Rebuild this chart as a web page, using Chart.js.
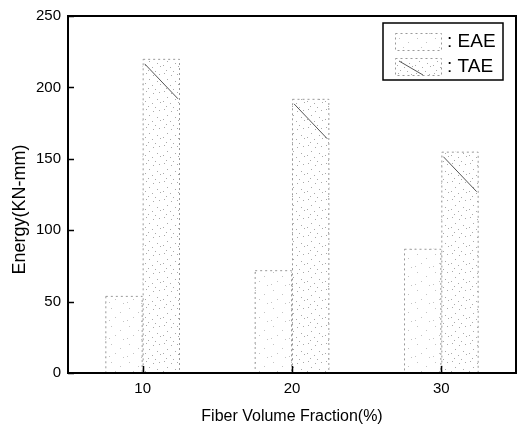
<!DOCTYPE html>
<html>
<head>
<meta charset="utf-8">
<script src="https://cdn.jsdelivr.net/npm/chart.js@4.4.1/dist/chart.umd.min.js"></script>
<style>
    html, body { margin: 0; padding: 0; background: #ffffff; }
    #box { width: 519px; height: 426px; }
</style>
</head>
<body>
<div id="box"><canvas id="grafiek" width="519" height="426"></canvas></div>
<script>
"use strict";

// Gegevens van de grafiek
const categorieen = ["10", "20", "30"];
const reeksNamen = ["EAE", "TAE"];
const eaeWaarden = [54, 72, 87];
const taeWaarden = [220, 192, 155];
const yTicks = [0, 50, 100, 150, 200, 250];
const xTitel = "Fiber Volume Fraction(%)";
const yTitel = "Energy(KN-mm)";

const lettertype = "'Liberation Sans', Arial, sans-serif";

// Maak een gestippeld patroon, zoals in de gescande figuur.
function maakPatroon(stippen, kleur) {
    const c = document.createElement("canvas");
    c.width = 18;
    c.height = 18;
    const ctx = c.getContext("2d");
    ctx.fillStyle = "#ffffff";
    ctx.fillRect(0, 0, 18, 18);
    ctx.fillStyle = kleur;
    stippen.forEach(p => ctx.fillRect(p[0], p[1], 1, 1));
    return ctx.createPattern(c, "repeat");
}

const eaePatroon = maakPatroon([[3, 2], [12, 6], [7, 11], [15, 15], [1, 14]], "#c4c4c4");
const taePatroon = maakPatroon([[2, 1], [9, 3], [15, 2], [5, 7], [13, 9], [1, 11], [8, 13], [16, 12], [4, 16], [11, 17]], "#aaaaaa");

// Kader, naar binnen wijzende streepjes, stippellijnen, y-titel en de legenda
const extraTekenen = {
    id: "extraTekenen",
    afterDatasetsDraw(chart) {
        const ctx = chart.ctx;
        ctx.save();
        chart.data.datasets.forEach((ds, i) => {
            const meta = chart.getDatasetMeta(i);
            meta.data.forEach(bar => {
                const p = bar.getProps(["x", "y", "base", "width"], true);
                const links = p.x - p.width / 2;
                const rechts = p.x + p.width / 2;
                ctx.strokeStyle = "#999999";
                ctx.lineWidth = 1;
                ctx.setLineDash([2, 3]);
                ctx.strokeRect(links + 0.5, p.y + 0.5, p.width - 1, p.base - p.y);
                ctx.setLineDash([]);
                if (i === 1) {
                    ctx.strokeStyle = "#555555";
                    ctx.beginPath();
                    ctx.moveTo(links + 2, p.y + 5);
                    ctx.lineTo(rechts - 2, p.y + 40);
                    ctx.stroke();
                }
            });
        });
        ctx.restore();
    },
    afterDraw(chart) {
        const ctx = chart.ctx;
        const ca = chart.chartArea;
        const y = chart.scales.y;
        const x = chart.scales.x;
        ctx.save();
        ctx.strokeStyle = "#000000";
        ctx.lineWidth = 2;
        ctx.strokeRect(ca.left, ca.top, ca.right - ca.left, ca.bottom - ca.top);

        ctx.lineWidth = 1.5;
        yTicks.forEach(v => {
            const py = Math.round(y.getPixelForValue(v)) + 0.5;
            ctx.beginPath();
            ctx.moveTo(ca.left, py);
            ctx.lineTo(ca.left + 6, py);
            ctx.stroke();
        });
        categorieen.forEach((c, i) => {
            const px = Math.round(x.getPixelForTick(i)) + 0.5;
            ctx.beginPath();
            ctx.moveTo(px, ca.bottom);
            ctx.lineTo(px, ca.bottom - 7);
            ctx.stroke();
        });

        // De y-titel staat in het origineel iets onder het midden van de as.
        ctx.fillStyle = "#000000";
        ctx.font = "18px " + lettertype;
        ctx.textAlign = "center";
        ctx.textBaseline = "middle";
        ctx.translate(20, (ca.top + ca.bottom) / 2 + 15);
        ctx.rotate(-Math.PI / 2);
        ctx.fillText(yTitel, 0, 0);
        ctx.setTransform(1, 0, 0, 1, 0, 0);

        // Legenda met kader rechtsboven in het plotvlak
        const lx = ca.right - 133;
        const ly = ca.top + 7;
        ctx.lineWidth = 1.5;
        ctx.strokeStyle = "#000000";
        ctx.strokeRect(lx, ly, 120, 57);
        const patronen = [eaePatroon, taePatroon];
        reeksNamen.forEach((naam, i) => {
            const sy = ly + 10 + i * 25;
            ctx.fillStyle = patronen[i];
            ctx.fillRect(lx + 12, sy, 46, 17);
            ctx.strokeStyle = "#999999";
            ctx.lineWidth = 1;
            ctx.setLineDash([2, 3]);
            ctx.strokeRect(lx + 12.5, sy + 0.5, 46, 17);
            ctx.setLineDash([]);
            if (i === 1) {
                ctx.strokeStyle = "#555555";
                ctx.beginPath();
                ctx.moveTo(lx + 16, sy + 3);
                ctx.lineTo(lx + 40, sy + 17);
                ctx.stroke();
            }
            ctx.fillStyle = "#000000";
            ctx.font = "19px " + lettertype;
            ctx.textBaseline = "middle";
            ctx.textAlign = "left";
            ctx.fillText(": " + naam, lx + 64, sy + 9);
        });
        ctx.restore();
    }
};

const canvas = document.getElementById("grafiek").getContext("2d");
const mijnGrafiek = new Chart(canvas, {
    type: "bar",
    data: {
        labels: categorieen,
        datasets: [
            {
                label: reeksNamen[0],
                data: eaeWaarden,
                backgroundColor: eaePatroon,
                borderWidth: 0
            },
            {
                label: reeksNamen[1],
                data: taeWaarden,
                backgroundColor: taePatroon,
                borderWidth: 0
            }
        ]
    },
    options: {
        responsive: false,
        animation: false,
        devicePixelRatio: 1,
        categoryPercentage: 0.5,
        barPercentage: 1.0,
        layout: { padding: { top: 13, right: 3, left: 0, bottom: 0 } },
        plugins: {
            legend: { display: false },
            tooltip: { enabled: false }
        },
        scales: {
            x: {
                grid: { display: false, drawTicks: false },
                border: { display: false },
                ticks: {
                    color: "#000000",
                    padding: 7,
                    font: { family: lettertype, size: 15 }
                },
                title: {
                    display: true,
                    text: xTitel,
                    color: "#000000",
                    padding: { top: 3, bottom: 0 },
                    font: { family: lettertype, size: 16 }
                },
                afterFit: s => { s.height = 53; }
            },
            y: {
                min: 0,
                max: 250,
                grid: { display: false, drawTicks: false },
                border: { display: false },
                ticks: {
                    stepSize: 50,
                    color: "#000000",
                    padding: 7,
                    font: { family: lettertype, size: 15 }
                },
                afterFit: s => { s.width = 68; }
            }
        }
    },
    plugins: [extraTekenen]
});
</script>
</body>
</html>
